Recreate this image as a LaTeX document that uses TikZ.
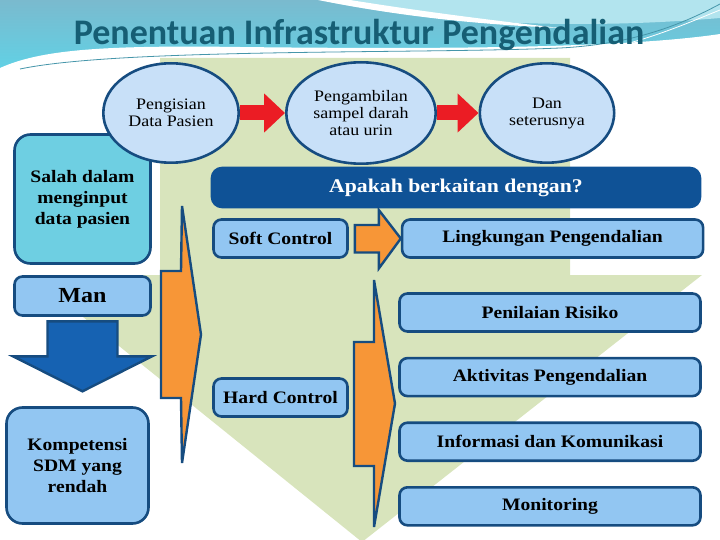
\documentclass[tikz,border=0pt]{standalone}
\usepackage{fontspec}
\setmainfont{Liberation Serif}[FakeStretch=1.12]
\newfontfamily\titlefont{Carlito}
\usepackage{tikz}
\usetikzlibrary{shapes.geometric,arrows.meta,positioning}
\definecolor{navyline}{RGB}{22,76,128}
\definecolor{procblue}{RGB}{200,224,248}
\definecolor{boxblue}{RGB}{146,198,242}
\definecolor{salahcyan}{RGB}{110,207,226}
\definecolor{barblue}{RGB}{15,82,150}
\definecolor{ctrlorange}{RGB}{247,150,55}
\definecolor{greenbg}{RGB}{216,228,188}
\definecolor{arrowred}{RGB}{235,28,36}
\definecolor{arrowblue}{RGB}{22,98,178}
\definecolor{titleteal}{RGB}{22,94,116}
\definecolor{hdrtop}{RGB}{122,186,206}
\definecolor{hdrbot}{RGB}{96,210,230}
\definecolor{hdrlite}{RGB}{178,228,238}
\definecolor{hdrline}{RGB}{70,150,170}

\begin{document}
\begin{tikzpicture}[x=1pt,y=-1pt,
  %% styles
  proc/.style={ellipse, draw=navyline, line width=2.6pt, fill=procblue,
               inner sep=0pt, align=center,
               font=\fontsize{16}{17}\selectfont},
  ctrl/.style={rectangle, rounded corners=8pt,
               draw=navyline, line width=2.6pt, fill=#1,
               inner sep=0pt, align=center,
               font=\bfseries\fontsize{17.5}{21}\selectfont},
  ctrl/.default=boxblue,
  blockarr/.style={draw=navyline, line width=2.4pt, line join=miter, fill=#1},
  redarr/.style={-{Triangle[length=21pt,width=38pt]}, draw=arrowred, line width=15pt},
]
\useasboundingbox (0,0) rectangle (720,540);

%% ------ header band ---------------------------------------------------
\shade[top color=hdrtop, bottom color=hdrbot] (0,0) rectangle (720,72);
\fill[hdrlite] (320,0) .. controls (430,24) and (580,30) .. (720,18)
  -- (720,0) -- cycle;
\fill[white] (318,0) .. controls (400,16) and (470,24) .. (560,28)
  .. controls (470,18) and (400,8) .. (350,0) -- cycle;
\fill[white] (0,72) -- (0,68) .. controls (40,50) and (100,45) .. (240,47)
  .. controls (420,49) and (620,49) .. (720,34) -- (720,72) -- cycle;
\draw[hdrline, line width=0.8pt] (20,69) .. controls (120,48) and (420,54) .. (560,48)
  .. controls (640,44) and (690,20) .. (720,4);
\draw[white, line width=0.8pt] (600,50) .. controls (650,40) and (690,22) .. (720,10);

%% title
\node[font=\titlefont\bfseries\fontsize{36}{40}\selectfont, text=titleteal,
      anchor=base] (judul) at (359,45) {Penentuan Infrastruktur Pengendalian};

%% ------ green background arrow ----------------------------------------
\fill[greenbg] (160,58) -- (570,58) -- (570,275) -- (702,275)
  -- (362,542) -- (31,275) -- (160,275) -- cycle;

%% ------ left column ---------------------------------------------------
\node[ctrl=salahcyan, rounded corners=16pt,
      minimum width=136pt, minimum height=129pt] (salah) at (82.5,199)
  {Salah dalam\\menginput\\data pasien};

\node[ctrl, minimum width=136pt, minimum height=39pt,
      font=\bfseries\fontsize{21.5}{24}\selectfont] (man) at (82.5,296) {Man};

\node[ctrl, rounded corners=16pt,
      minimum width=142pt, minimum height=116pt] (komp) at (77.5,465.5)
  {Kompetensi\\SDM yang\\rendah};

%% man -> kompetensi (block arrow)
\draw[blockarr=arrowblue] (man.south) ++(-35,4.5) -- ++(70,0) -- ++(0,35)
  -- ++(34.5,0) -- ++(-69.5,35) -- ++(-69.5,-35) -- ++(34.5,0) -- cycle;

%% ------ process ellipses ----------------------------------------------
\node[proc, minimum width=135.4pt, minimum height=99.4pt] (isian) at (171,113)
  {Pengisian\\Data Pasien};
\node[proc, minimum width=149.4pt, minimum height=101.4pt] (ambil) at (361,113)
  {Pengambilan\\sampel darah\\atau urin};
\node[proc, minimum width=134.4pt, minimum height=99.4pt] (dst) at (547,113)
  {Dan\\seterusnya};

\draw[redarr] (isian) -- (ambil);
\draw[redarr] (ambil) -- (dst);

%% ------ question bar --------------------------------------------------
\node[ctrl=barblue, draw=barblue, rounded corners=10pt, text=white,
      minimum width=488pt, minimum height=39pt,
      font=\bfseries\fontsize{19.4}{22}\selectfont] (tanya) at (456,187.5)
  {Apakah berkaitan dengan?};

%% ------ soft / hard control -------------------------------------------
\node[ctrl, minimum width=134pt, minimum height=38pt] (soft) at (280.5,238.5)
  {Soft Control};
\node[ctrl, minimum width=301pt, minimum height=38pt, right=52pt of soft] (ling)
  {Lingkungan Pengendalian};
\node[ctrl, minimum width=134pt, minimum height=38pt] (hard) at (280.5,397.5)
  {Hard Control};

%% components
\node[ctrl, minimum width=301pt, minimum height=38pt] (nilai) at (550,312.5)
  {Penilaian Risiko};
\node[ctrl, minimum width=301pt, minimum height=38pt, below=24pt of nilai] (aktiv)
  {Aktivitas Pengendalian};
\node[ctrl, minimum width=301pt, minimum height=38pt, below=24pt of aktiv] (info)
  {Informasi dan Komunikasi};
\node[ctrl, minimum width=301pt, minimum height=38pt, below=24pt of info] (monit)
  {Monitoring};

%% soft -> lingkungan
\draw[blockarr=ctrlorange] (soft.east) ++(6,-13.5) -- ++(24,0) -- ++(0,-15)
  -- (ling.west) -- ++(-22,30) -- ++(0,-16) -- ++(-24,0) -- cycle;

%% tall orange brackets
\draw[blockarr=ctrlorange] (161,271) -- (181,271) -- (182,206) -- (201,334.5)
  -- (182,463) -- (181,398) -- (161,398) -- cycle;
\draw[blockarr=ctrlorange] (354,342) -- (374,342) -- (374,280) -- (395,403.5)
  -- (374,527) -- (374,466) -- (354,466) -- cycle;

\end{tikzpicture}
\end{document}
